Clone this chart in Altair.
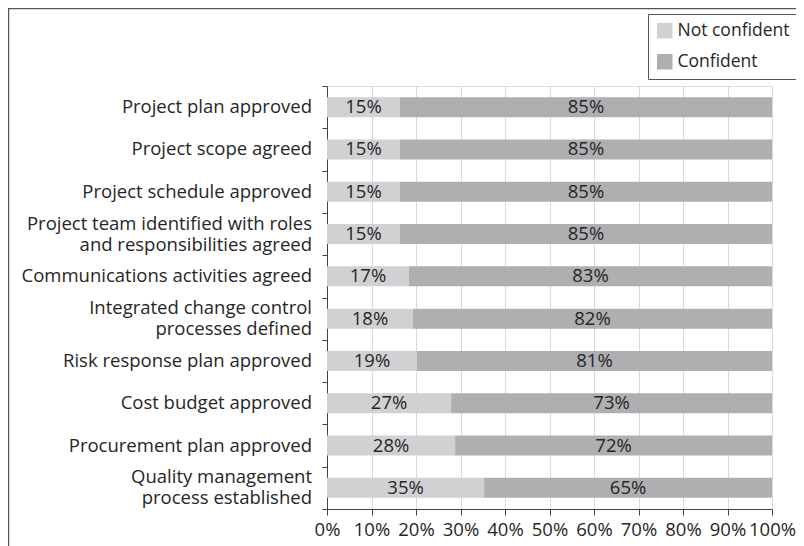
import altair as alt
import pandas as pd

# Categories top to bottom ('|' marks a line break in the label)
categories = [
    "Project plan approved",
    "Project scope agreed",
    "Project schedule approved",
    "Project team identified with roles|and responsibilities agreed",
    "Communications activities agreed",
    "Integrated change control|processes defined",
    "Risk response plan approved",
    "Cost budget approved",
    "Procurement plan approved",
    "Quality management|process established",
]
# Bar lengths as measured on the picture (% of respondents)
not_confident = [16.4, 16.4, 16.4, 16.4, 18.4, 19.3, 20.2, 27.9, 28.8, 35.3]
confident = [83.6, 83.6, 83.6, 83.6, 81.6, 80.7, 79.8, 72.1, 71.2, 64.7]
# Printed data labels
not_confident_labels = ["15%", "15%", "15%", "15%", "17%", "18%", "19%", "27%", "28%", "35%"]
confident_labels = ["85%", "85%", "85%", "85%", "83%", "82%", "81%", "73%", "72%", "65%"]
series = ["Not confident", "Confident"]
colors = ["#d1d1d3", "#afafb2"]

rows = []
for i, c in enumerate(categories):
    nc, cf = not_confident[i], confident[i]
    rows.append({"cat": c, "series": series[0], "start": 0.0, "end": nc,
                 "mid": nc / 2, "label": not_confident_labels[i], "ord": 0})
    rows.append({"cat": c, "series": series[1], "start": nc, "end": nc + cf,
                 "mid": nc + cf / 2, "label": confident_labels[i], "ord": 1})
df = pd.DataFrame(rows)
cat_df = pd.DataFrame({"cat": categories,
                       "two": ["|" in c for c in categories]})

FONT = "Open Sans"
TXT = "#262626"
FS = 18.5

y_scale = alt.Scale(paddingInner=0, paddingOuter=0)
y_enc = alt.Y(
    "cat:N", sort=categories, title=None, scale=y_scale,
    axis=alt.Axis(
        labels=False, tickBand="extent", tickSize=5,
        tickColor="#444", domainColor="#444", grid=False,
    ),
)
x_scale = alt.Scale(domain=[0, 100], nice=False)
x_axis = alt.Axis(
    values=[0, 10, 20, 30, 40, 50, 60, 70, 80, 90, 100],
    labelExpr="datum.value + '%'",
    labelFont=FONT, labelFontSize=FS, labelColor=TXT, labelPadding=5,
    tickSize=6, tickColor="#444", domainColor="#444",
    grid=True, gridColor="#d9d9d9", labelFlush=False, labelOverlap=False,
)

bars = alt.Chart(df).mark_bar(size=20).encode(
    y=y_enc,
    x=alt.X("start:Q", scale=x_scale, axis=x_axis, title=None),
    x2="end:Q",
    color=alt.Color(
        "series:N",
        scale=alt.Scale(domain=series, range=colors),
        legend=alt.Legend(
            title=None, orient="none", legendX=321, legendY=-72,
            symbolType="square", symbolSize=240, symbolStrokeWidth=0,
            labelFont=FONT, labelFontSize=17.5, labelColor=TXT, labelOffset=4,
            rowPadding=12, padding=8, strokeColor="#555", fillColor="white",
        ),
    ),
    order="ord:Q",
)

texts = alt.Chart(df).mark_text(
    font=FONT, fontSize=FS, color=TXT, baseline="middle", align="center"
).encode(
    y=alt.Y("cat:N", sort=categories),
    x=alt.X("mid:Q", scale=x_scale),
    text="label:N",
)

one_line = alt.Chart(cat_df).transform_filter("!datum.two").mark_text(
    font=FONT, fontSize=FS, color=TXT, baseline="middle", align="right"
).encode(
    y=alt.Y("cat:N", sort=categories),
    x=alt.value(-15),
    text="cat:N",
)
two_line = alt.Chart(cat_df).transform_filter("datum.two").mark_text(
    font=FONT, fontSize=FS, color=TXT, baseline="middle", align="right",
    lineBreak="|", lineHeight=21, dy=-10.5,
).encode(
    y=alt.Y("cat:N", sort=categories),
    x=alt.value(-15),
    text="cat:N",
)

frame_df = pd.DataFrame({"k": [0]})
top_border = alt.Chart(frame_df).mark_rule(color="#555", strokeWidth=1.5).encode(
    x=alt.value(-319), x2=alt.value(480), y=alt.value(-77.5)
)
left_border = alt.Chart(frame_df).mark_rule(color="#555", strokeWidth=1.5).encode(
    x=alt.value(-318.5), y=alt.value(-78), y2=alt.value(460)
)

chart = alt.layer(bars, texts, one_line, two_line, top_border, left_border).properties(
    width=445, height=423,
    autosize=alt.AutoSizeParams(type="none"),
    padding={"left": 319, "top": 78, "right": 24, "bottom": 37},
).configure_view(stroke=None).configure(background="white")

chart.save("out.html", embed_options={"renderer": "svg", "actions": False})
